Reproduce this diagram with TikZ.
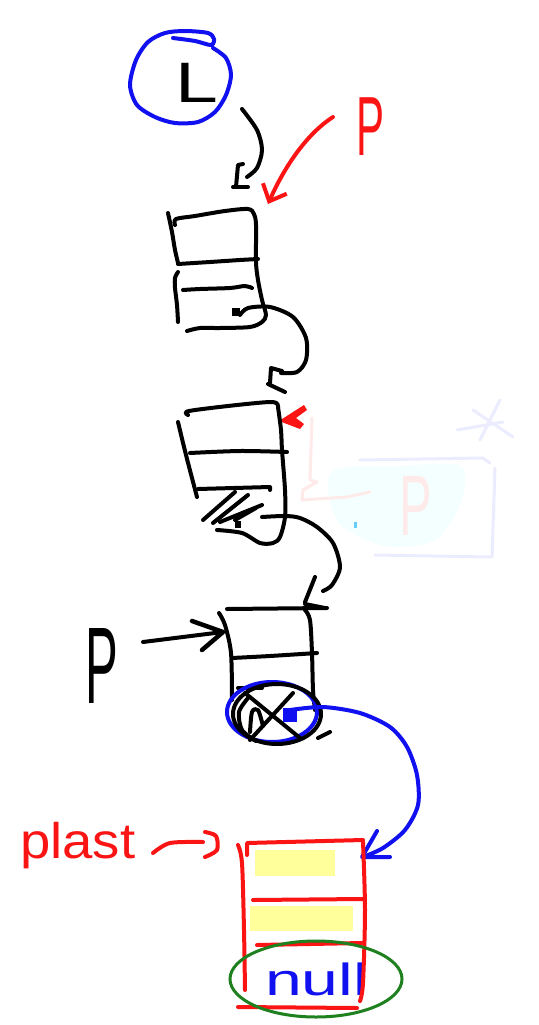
\documentclass[tikz,border=0pt]{standalone}
\usepackage{fontspec}
\setmainfont{Liberation Sans}
\usepackage{graphicx}
\usetikzlibrary{arrows.meta}
\definecolor{pblue}{RGB}{16,16,240}
\definecolor{pred}{RGB}{250,20,20}
\definecolor{pgreen}{RGB}{30,128,30}
\definecolor{pyellow}{RGB}{255,255,155}
\definecolor{fpink}{RGB}{255,234,234}
\definecolor{flav}{RGB}{236,236,255}
\definecolor{fcyan}{RGB}{244,255,255}
\begin{document}
\begin{tikzpicture}[x=1pt,y=-1pt,
  ink/.style={line width=4pt,line cap=round,line join=round},
  faint/.style={line width=3pt,line cap=round,line join=round},
  boxnode/.style={draw=none,rectangle,inner sep=0pt},
  lbl/.style={inner sep=0pt},
]
\fill[white] (0,0) rectangle (538,1025);
\useasboundingbox (0,0) rectangle (538,1025);

% ---------- named nodes ----------
\node[lbl] (L) at (197,83) {\fontsize{57}{57}\selectfont\scalebox{1.35}[1]{L}};
\node[lbl,text=pred] (Pr) at (371,127) {\fontsize{84}{84}\selectfont\scalebox{0.5}[1]{P}};
\node[lbl] (Pb) at (102,666) {\fontsize{109}{109}\selectfont\scalebox{0.45}[1]{P}};
\node[lbl,anchor=base west,text=pred] (plast) at (20,858) {\fontsize{50}{50}\selectfont\scalebox{1.09}[1]{plast}};
\node[lbl,anchor=base west,text=pblue] (null) at (265,995) {\fontsize{45}{45}\selectfont\scalebox{1.47}[1]{null}};
\node[boxnode,minimum width=98pt,minimum height=122pt] (n1) at (217,270) {};
\node[boxnode,minimum width=110pt,minimum height=142pt] (n2) at (232,474) {};
\node[boxnode,minimum width=106pt,minimum height=140pt] (n3) at (270,678) {};
\node[boxnode,minimum width=128pt,minimum height=170pt] (n4) at (302,925) {};

% ---------- faint erased drawing ----------
\fill[fcyan] plot[smooth cycle] coordinates {(332,472) (400,466) (460,466) (462,500) (435,540) (385,546) (338,522)};
\draw[faint,flav] (360,460) -- (483,458) -- (490,463);
\draw[faint,flav] (495,468) -- (492,557);
\draw[faint,flav] (375,555) -- (490,557);
\draw[faint,flav] (457,430) -- (503,422);
\draw[faint,flav] (500,400) -- (480,440);
\draw[faint,flav] (473,410) -- (513,437);
\node[lbl,text=fpink] (Pf) at (416,506) {\fontsize{86}{86}\selectfont\scalebox{0.57}[1]{P}};
\draw[faint,fpink] (370,492) -- (347,497) -- (302,500) -- (303,490) -- (317,482) -- (310,480) -- (312,418);
\fill[pred] (279,421) -- (304,405) -- (307,410) -- (296,418) -- (304,424) -- (300,429) -- cycle;
\fill[cyan!60] (354,522) rectangle (357,528);

% ---------- L circle ----------
\draw[ink,pblue] plot[smooth] coordinates {(173,38) (195,41) (211,45) (214,39) (208,33) (185,31) (165,33) (148,42) (136,60) (130,85) (137,105) (155,117) (175,123) (198,122) (215,112) (226,95) (231,75) (226,58) (213,48)};

% L -> n1
\draw[ink] plot[smooth] coordinates {(242,109) (257,130) (262,150) (257,168) (247,177)};
\draw[ink] (243,164) -- (238,165) -- (236,187);
\draw[ink] (233,187) -- (248,187);

% red P -> n1
\draw[ink,pred,-{Straight Barb[length=14pt,width=26pt]}] (333,117) .. controls (305,135) and (283,170) .. (268,204);

% ---------- node 1 ----------
\draw[ink] plot[smooth] coordinates {(168,213) (172,232) (175,250) (178,263)};
\draw[ink] plot[smooth] coordinates {(175,225) (176,219) (195,216) (225,211) (248,209) (254,214) (256,225) (256,262) (258,280) (262,300) (266,315) (262,322) (250,327) (220,328) (200,328) (187,331)};
\draw[ink] plot[smooth] coordinates {(178,264) (210,262) (240,260) (258,259)};
\draw[ink] plot[smooth] coordinates {(178,272) (175,278) (175,288) (177,305) (178,322)};
\draw[ink] plot[smooth] coordinates {(183,290) (200,289) (230,288) (245,286) (252,288)};
\fill (232,308) rectangle (240,316);

% n1 -> n2
\draw[ink] plot[smooth] coordinates {(240,315) (248,308) (270,307) (293,317) (306,338) (306,360) (297,372) (281,373)};
\draw[ink] (282,371) -- (271,368) -- (270,383);
\draw[ink] (268,384) -- (285,392);

% ---------- node 2 ----------
\draw[ink] plot[smooth] coordinates {(188,415) (189,411) (237,405) (273,402) (278,407)};
\draw[ink] plot[smooth] coordinates {(278,407) (281,430) (282,450) (285,490) (285,517) (280,537) (273,543) (260,543) (242,533) (217,530)};
\draw[ink] plot[smooth] coordinates {(178,422) (186,455) (197,497)};
\draw[ink] plot[smooth] coordinates {(190,453) (240,451) (287,452)};
\draw[ink] (198,489) -- (270,487) -- (270,490);
\draw[ink] (203,520) -- (235,492);
\draw[ink] (213,523) -- (248,495);
\draw[ink] (220,522) -- (262,505);
\draw[ink] (235,520) -- (256,508);
\fill (235,521) rectangle (241,528);

% n2 -> n3
\draw[ink] plot[smooth] coordinates {(262,517) (285,516) (300,518) (317,527) (333,543) (340,567) (332,585) (323,591)};
\draw[ink] (315,577) -- (305,602);
\draw[ink] (305,604) -- (325,608);

% ---------- node 3 ----------
\draw[ink] (227,609) -- (327,608);
\draw[ink] plot[smooth] coordinates {(219,613) (225,625) (231,653) (232,700)};
\draw[ink] plot[smooth] coordinates {(305,610) (310,620) (312,653) (313,690) (315,710)};
\draw[ink] plot[smooth] coordinates {(232,658) (270,656) (317,653)};
\draw[ink] (238,688) -- (262,688);
\draw[ink,pblue] (272,712) ellipse [x radius=45pt, y radius=30pt];
\draw[ink] (277,714) ellipse [x radius=44pt, y radius=30pt];
\draw[ink] plot[smooth] coordinates {(248,698) (239,712) (242,730) (256,741)};
\draw[ink] (245,693) -- (300,738);
\draw[ink] (293,693) -- (250,740);
\draw[ink] plot[smooth] coordinates {(250,732) (252,712) (258,710) (263,726)};
\fill[pblue] (283,708) rectangle (297,722);
\draw[ink] (318,738) -- (330,732);

% P (black) -> n3
\draw[ink] (143,642) -- (223,632);
\draw[ink,line width=4.5pt] (192,621) -- (223,632) -- (202,650);

% n3 -> n4 (blue)
\draw[ink,pblue] plot[smooth] coordinates {(290,710) (323,707) (360,713) (390,727) (407,747) (417,775) (418,805) (405,830) (383,848) (363,857)};
\draw[ink,pblue] (377,831) -- (362,857) -- (390,857);

% plast -> n4
\draw[ink,pred] plot[smooth] coordinates {(153,853) (170,843) (203,842)};
\draw[ink,pred] plot[smooth] coordinates {(205,832) (216,836) (217,850) (205,857)};

% ---------- node 4 (plast) ----------
\fill[pyellow] (255,850) rectangle (335,876);
\fill[pyellow] (250,906) rectangle (353,931);
\draw[ink,pred] plot[smooth] coordinates {(238,845) (242,863) (244,930) (245,990)};
\draw[ink,pred] (247,855) -- (247,843) -- (363,840);
\draw[ink,pred] plot[smooth] coordinates {(363,842) (365,910) (363,983) (360,1001)};
\draw[ink,pred] (238,1007) -- (357,1008);
\draw[ink,pred] (253,900) -- (363,899);
\draw[ink,pred] (257,945) -- (363,943);
\draw[pgreen,line width=3pt] (316,979) ellipse [x radius=86pt, y radius=38pt];
\end{tikzpicture}
\end{document}
